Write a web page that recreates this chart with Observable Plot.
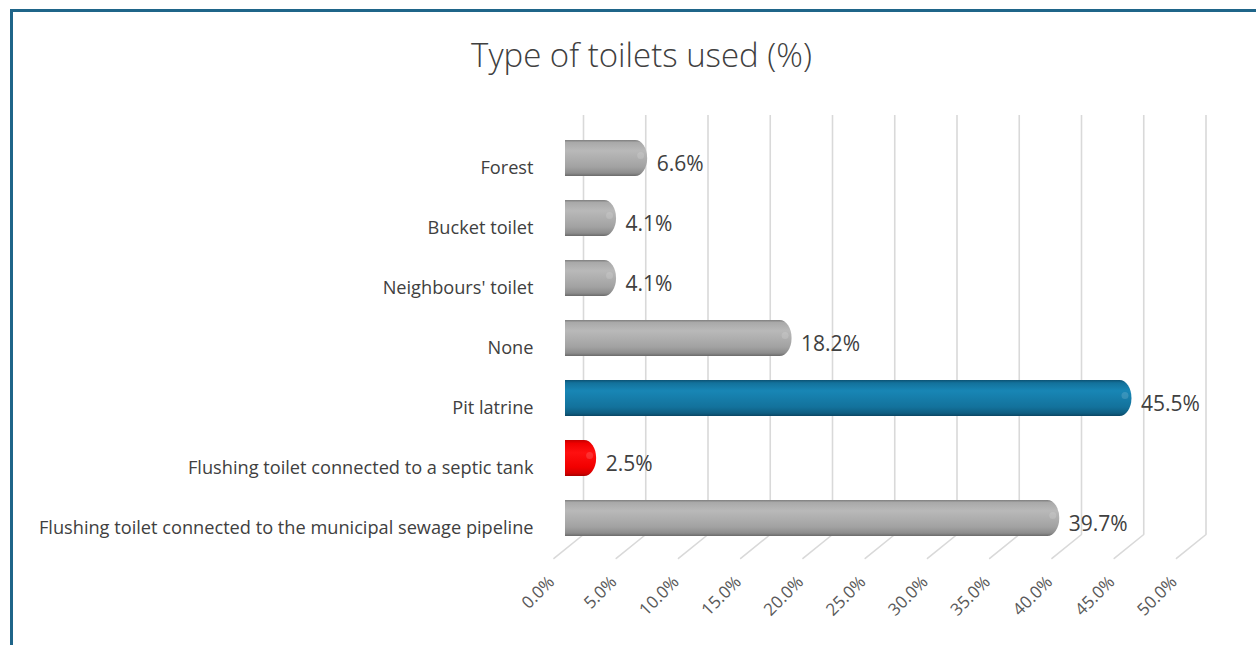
<!DOCTYPE html>
<html>
<head>
<meta charset="utf-8">
<script src="https://cdn.jsdelivr.net/npm/d3@7"></script>
<script src="https://cdn.jsdelivr.net/npm/@observablehq/plot@0.6"></script>
<style>
  html, body { margin: 0; padding: 0; background: #fff; overflow: hidden; }
  #frame {
    position: absolute; left: 10px; top: 9px; width: 1243px; height: 633px;
    border-left: 3px solid #1f6589; border-top: 3px solid #1f6589;
    background: #fff;
  }
  #title {
    height: 40px; padding-top: 23px; padding-bottom: 15px; padding-left: 14px;
    line-height: 40px; text-align: center;
    font-family: "Open Sans", sans-serif; font-weight: 300; font-size: 33px; color: #404040;
  }
  #chart svg { display: block; }
</style>
</head>
<body>
<div id="frame">
  <div id="title">Type of toilets used (%)</div>
  <div id="chart"></div>
</div>
<script>
const categories = [
  "Forest",
  "Bucket toilet",
  "Neighbours' toilet",
  "None",
  "Pit latrine",
  "Flushing toilet connected to a septic tank",
  "Flushing toilet connected to the municipal sewage pipeline"
];
const values = [6.6, 4.1, 4.1, 18.2, 45.5, 2.5, 39.7];
const barColors = ["gray", "gray", "gray", "gray", "blue", "red", "gray"];
const tickValues = [0, 5, 10, 15, 20, 25, 30, 35, 40, 45, 50];

const data = categories.map((c, i) => ({category: c, value: values[i], color: barColors[i]}));

const lineShape = {draw(ctx, l) { ctx.moveTo(0, 0); ctx.lineTo(0, -l); }};
const gridColor = "#d9d9d9";

function barsFor(color) {
  const sub = data.filter(d => d.color === color);
  const fill = `url(#grad-${color})`;
  return [
    Plot.barX(sub, {x: "value", y: "category", fill, rx: 12, ry: 18}),
    Plot.barX(sub, {x1: 0, x2: d => d.value / 2, y: "category", fill})
  ];
}

const chart = Plot.plot({
  width: 1243,
  height: 555,
  marginLeft: 552,
  marginRight: 68.5,
  marginTop: 25,
  marginBottom: 84.5,
  style: {fontFamily: "'Open Sans', sans-serif", color: "#404040", background: "#fff"},
  x: {domain: [0, 50], axis: null},
  y: {domain: categories, padding: 0.4, axis: null},
  marks: [
    Plot.ruleX(tickValues, {x: d => d, dx: 18, insetBottom: 26.5, stroke: gridColor, strokeWidth: 1.6}),
    Plot.vector(tickValues, {x: d => d, frameAnchor: "bottom", dx: 18, dy: -26.5, length: 38, rotate: 231, anchor: "start", shape: lineShape, stroke: gridColor, strokeWidth: 1.6}),
    Plot.text(tickValues, {x: d => d, frameAnchor: "bottom", text: d => d.toFixed(1) + "%", rotate: -45, textAnchor: "end", dx: -10, dy: 22, fontSize: 17, fill: "#595959"}),
    Plot.axisY({tickSize: 0, tickPadding: 32, dy: 10, fontSize: 18.2, fill: "#404040", label: null}),
    ...barsFor("gray"),
    ...barsFor("blue"),
    ...barsFor("red"),
    Plot.dot(data, {x: "value", y: "category", dx: -7, dy: -3, r: 3.5, fill: "white", fillOpacity: 0.14, stroke: "none"}),
    Plot.text(data, {x: "value", y: "category", text: d => d.value.toFixed(1) + "%", textAnchor: "start", dx: 9, dy: 5.5, fontSize: 21, fill: "#404040"})
  ]
});

// gradients giving the cylinder look
const gradients = {
  gray: [[0, "#7e7e7e"], [0.07, "#a9a9a9"], [0.3, "#b9b9b9"], [0.75, "#a2a2a2"], [0.92, "#8c8c8c"], [1, "#6a6a6a"]],
  blue: [[0, "#0c5274"], [0.08, "#13719b"], [0.3, "#1886b5"], [0.75, "#13729c"], [0.92, "#0f5e82"], [1, "#0a4664"]],
  red: [[0, "#c40000"], [0.1, "#f00000"], [0.35, "#ff1010"], [0.75, "#f20000"], [0.92, "#d60000"], [1, "#a80000"]]
};
const defs = d3.select(chart).insert("defs", ":first-child");
for (const [name, stops] of Object.entries(gradients)) {
  const g = defs.append("linearGradient").attr("id", `grad-${name}`)
    .attr("x1", 0).attr("y1", 0).attr("x2", 0).attr("y2", 1);
  for (const [o, c] of stops) g.append("stop").attr("offset", o).attr("stop-color", c);
}

document.getElementById("chart").append(chart);
</script>
</body>
</html>
